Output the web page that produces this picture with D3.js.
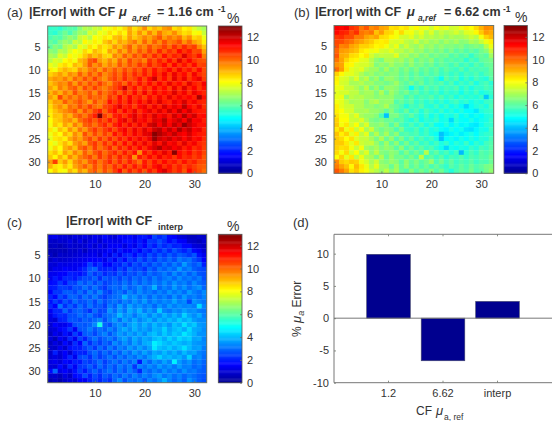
<!DOCTYPE html>
<html>
<head>
<meta charset="utf-8">
<script src="https://cdn.jsdelivr.net/npm/d3@7"></script>
<style>
html,body{margin:0;padding:0;background:#fff}
svg{display:block}
text{font-family:"Liberation Sans",Arial,sans-serif;fill:#333}
</style>
</head>
<body>
<svg id="fig" width="555" height="421"></svg>
<script>
// |Error| per pixel, percent, with the high-absorption calibration factor
const errorA = [
[5.5,5.6,5.4,5.8,6.0,5.9,6.6,7.2,7.0,7.5,7.3,8.1,7.9,8.4,8.0,8.6,9.2,8.5,8.9,9.6,8.6,9.1,8.8,9.4,9.6,8.5,8.8,8.2,8.4,7.7,7.3,7.0],
[5.6,5.4,5.9,6.3,5.8,6.4,6.9,6.7,7.6,7.3,8.0,7.8,8.5,8.1,8.6,8.2,9.3,8.7,9.5,8.8,9.7,9.0,9.9,9.2,9.0,9.6,8.9,8.5,8.7,8.0,8.2,7.4],
[5.8,6.1,5.9,6.4,6.8,6.5,7.4,7.7,7.2,8.1,7.9,8.4,8.2,8.9,9.1,8.5,9.4,8.8,9.2,9.7,9.3,9.8,10.3,9.4,9.9,9.5,9.9,9.0,9.5,8.6,8.8,7.9],
[6.2,5.9,6.5,6.9,6.6,7.5,7.2,8.2,7.8,8.3,8.0,8.8,9.2,8.6,9.3,9.0,9.5,9.9,9.2,10.1,9.4,10.2,9.6,10.4,9.8,10.0,10.4,9.5,10.1,9.3,9.0,8.3],
[6.1,6.6,6.3,7.1,7.4,7.0,7.9,7.6,8.5,8.1,8.8,8.4,8.7,9.5,9.0,9.6,10.2,9.3,10.0,9.6,10.4,9.8,10.1,10.6,10.0,10.8,10.2,10.9,10.3,10.6,9.6,8.9],
[6.7,6.5,7.2,7.0,7.6,8.1,7.8,8.6,8.2,9.0,8.7,8.3,9.3,8.9,9.8,9.2,10.1,9.5,10.3,9.8,10.6,10.0,10.9,10.2,10.8,10.4,11.3,10.7,11.1,10.4,10.5,9.3],
[7.1,6.9,7.7,7.4,8.2,7.9,8.3,8.8,9.4,8.9,9.3,8.7,8.6,9.7,9.3,10.2,9.6,10.4,9.9,10.7,10.1,10.9,10.3,11.2,10.5,11.0,10.7,11.8,10.9,10.6,11.2,9.8],
[7.2,7.7,7.5,8.1,8.4,8.0,9.0,9.3,10.2,10.5,9.4,9.0,9.6,9.1,10.1,9.5,10.5,9.9,10.2,9.7,10.8,10.3,11.0,10.5,11.3,10.6,11.7,10.8,11.4,10.7,10.4,10.3],
[7.9,7.6,8.3,8.6,8.2,9.0,8.7,9.4,10.3,9.5,10.0,9.2,9.8,9.4,10.3,9.7,10.4,10.0,10.7,10.2,11.0,10.4,10.8,11.3,10.5,11.4,10.7,11.2,10.6,11.3,10.5,10.6],
[8.3,8.0,8.7,9.1,8.8,8.6,9.5,9.2,9.8,10.1,9.4,10.2,9.7,10.3,9.8,10.5,10.0,10.6,10.2,11.0,10.4,11.2,10.6,10.9,11.4,10.7,11.5,10.8,11.2,10.6,11.3,10.4],
[8.7,9.0,9.4,8.9,9.6,9.3,10.2,9.5,10.3,9.7,10.4,9.6,10.0,10.5,10.0,10.8,10.2,10.9,10.4,11.1,10.5,11.3,10.8,11.5,10.7,11.6,10.9,11.3,10.6,11.5,10.8,10.5],
[9.2,9.5,9.3,9.8,9.2,10.1,9.6,10.4,9.8,10.6,9.9,9.5,10.2,10.6,10.1,10.9,10.3,10.6,11.2,10.5,11.3,12.0,10.7,11.3,10.6,11.7,10.9,11.6,10.7,11.2,11.6,10.6],
[8.9,9.3,9.7,9.5,10.2,9.4,10.3,9.7,10.4,9.9,10.6,10.0,9.6,10.4,10.7,10.1,11.0,10.4,11.2,10.6,11.3,10.7,11.4,10.8,11.6,10.9,11.3,10.7,11.7,11.0,10.8,11.5],
[9.3,8.8,9.8,9.3,10.0,10.3,9.5,10.5,9.9,10.6,10.0,9.7,10.2,10.5,10.9,12.0,10.6,11.2,10.4,11.1,10.6,11.4,10.8,11.3,10.6,11.6,10.8,11.8,10.9,11.4,10.7,11.2],
[9.0,9.6,9.1,9.9,9.4,10.4,9.7,9.9,10.3,9.6,10.5,9.9,10.3,10.8,10.2,11.0,10.5,11.3,10.6,11.5,10.7,11.4,10.9,11.3,11.0,11.8,11.0,11.5,10.8,11.6,11.2,10.9],
[9.4,8.9,10.5,9.5,10.1,9.6,10.2,9.7,10.4,10.0,10.2,9.8,10.7,10.3,11.3,10.5,11.4,10.7,11.1,10.5,11.3,10.8,11.5,10.9,11.7,11.0,11.5,11.1,11.4,11.0,12.5,11.2],
[8.8,9.4,9.3,10.2,9.6,10.0,10.4,9.9,9.4,10.4,9.8,10.1,11.2,10.6,11.2,10.7,11.5,10.8,11.4,10.9,11.7,11.0,11.8,11.1,10.9,11.6,11.2,11.9,11.1,11.5,11.0,10.9],
[8.6,9.2,9.6,9.1,10.0,9.7,10.4,9.9,10.6,10.0,9.8,10.5,10.7,11.1,11.7,10.9,11.2,10.6,11.3,11.6,10.9,11.6,11.0,11.9,11.2,11.7,11.3,12.3,11.4,11.0,11.6,10.8],
[8.4,8.9,9.3,9.6,9.9,10.3,9.5,10.4,9.9,10.6,11.0,10.1,10.9,11.3,10.6,11.4,10.9,11.6,10.8,11.3,11.7,11.1,11.8,11.2,12.0,11.3,12.2,11.4,12.0,11.2,11.1,11.0],
[8.3,8.9,8.8,9.5,9.1,9.9,10.3,9.8,10.5,11.0,13.0,10.6,10.1,11.0,11.2,10.7,11.3,11.8,11.0,11.6,11.1,11.9,11.3,11.7,11.1,12.0,11.4,12.4,11.5,12.0,11.2,11.3],
[8.1,8.7,8.9,9.4,9.6,9.0,10.0,10.4,10.7,10.2,10.8,10.4,11.1,10.5,11.3,11.7,10.9,11.8,11.2,11.5,11.0,11.8,11.6,12.3,11.3,11.7,12.1,11.4,12.3,11.4,11.5,11.0],
[8.0,8.8,8.4,9.3,8.8,9.8,9.2,10.2,10.4,9.9,10.5,10.9,10.2,11.0,11.4,10.8,11.5,10.9,11.6,11.0,11.9,12.2,11.4,12.1,11.4,12.2,11.6,12.7,12.0,11.6,11.2,11.2],
[8.4,7.9,8.9,8.5,9.5,8.9,9.9,9.4,10.2,10.7,10.1,10.6,11.0,10.4,11.1,11.5,10.8,11.6,11.0,11.8,11.2,12.0,12.3,11.5,12.2,11.5,12.5,11.7,12.2,11.4,11.6,10.9],
[7.9,8.5,8.1,9.1,8.6,9.6,9.1,10.4,9.7,10.5,9.9,10.6,10.1,11.2,10.6,11.3,10.8,11.5,11.0,11.7,11.8,12.9,12.4,12.0,11.6,12.2,11.6,11.4,11.9,11.3,11.1,11.0],
[7.8,8.4,8.6,8.3,9.2,9.7,9.3,10.0,10.5,9.8,10.7,10.1,10.9,10.3,11.1,10.6,11.4,10.9,11.5,11.0,11.6,12.7,12.0,11.7,12.1,11.5,11.9,11.3,11.8,11.2,11.4,10.8],
[8.2,7.8,8.5,9.0,8.5,9.4,9.8,9.3,10.3,10.7,10.0,10.8,10.2,11.1,10.4,11.3,10.6,11.5,10.9,11.6,11.0,11.8,11.2,12.0,11.3,11.6,11.0,11.8,11.1,11.5,10.9,10.7],
[7.9,8.6,8.1,9.1,9.5,8.9,10.0,10.4,9.7,10.6,9.9,10.3,10.9,10.1,11.0,10.5,11.3,10.7,11.4,10.8,11.5,11.9,12.4,11.6,11.9,11.4,11.7,11.0,11.4,10.8,11.1,10.6],
[8.5,8.9,8.3,9.3,8.8,9.7,9.2,10.2,9.6,10.3,10.7,10.0,10.5,10.9,10.3,11.1,10.5,11.2,9.6,11.2,10.7,11.4,11.0,11.7,11.1,12.9,11.3,10.9,11.3,10.7,11.0,10.5],
[8.8,8.2,9.1,8.5,9.6,9.0,9.8,10.1,10.5,9.8,10.7,10.1,10.8,10.2,11.0,10.4,11.0,9.5,11.1,10.6,11.3,10.8,11.5,10.9,11.2,10.7,11.3,10.8,11.0,10.6,10.9,10.3],
[9.4,10.6,8.8,9.4,8.6,9.5,9.9,9.4,10.2,10.6,9.9,10.4,10.9,10.2,10.9,10.3,11.0,10.5,10.0,11.1,10.5,11.2,10.7,11.3,10.8,11.1,10.6,11.2,10.7,11.0,10.5,10.4],
[9.1,8.5,8.3,8.9,8.4,9.3,9.7,10.2,9.6,10.4,9.8,10.5,10.1,10.8,10.3,11.1,10.4,11.1,10.5,11.2,10.6,11.2,11.5,10.8,11.2,10.6,11.0,10.5,10.9,10.6,10.3,10.2],
[8.1,8.7,8.2,8.0,9.0,8.5,9.5,9.0,9.9,10.3,9.6,10.4,9.9,10.6,11.3,10.2,11.0,10.4,11.0,10.3,11.1,10.6,11.4,11.9,11.1,10.6,11.0,10.3,11.3,10.7,10.4,10.0]
];

// |Error| per pixel, percent, with the low-absorption calibration factor
const errorB = [
[11.4,11.3,11.5,10.8,10.6,9.9,10.3,9.6,9.8,9.3,9.2,8.5,8.6,8.3,8.5,7.9,8.2,7.8,7.9,7.5,8.0,7.7,7.9,7.5,7.6,7.9,8.3,8.1,8.6,9.1,9.6,9.5],
[11.3,11.0,10.9,10.4,10.8,9.9,9.7,9.9,8.9,9.4,8.7,8.6,8.0,8.6,7.9,8.0,7.5,7.9,7.2,7.7,7.0,7.4,7.1,7.3,7.6,7.2,7.7,7.8,8.2,8.8,9.4,9.2],
[10.7,10.8,10.4,10.4,9.8,9.8,9.3,9.1,9.3,8.6,8.5,8.2,8.0,7.6,7.5,7.8,7.2,7.6,7.1,7.3,7.0,7.2,6.8,7.1,6.9,7.0,7.2,7.5,7.2,8.0,8.7,9.0],
[10.5,10.4,10.1,9.9,9.5,9.3,9.0,8.8,8.4,8.3,8.4,7.7,7.6,7.7,7.3,7.1,7.5,6.9,7.2,6.8,7.0,6.6,7.0,6.7,7.0,6.6,6.7,7.1,6.9,7.4,7.9,8.3],
[10.4,9.7,9.8,9.3,9.1,8.7,8.7,8.5,8.2,8.3,8.0,7.5,7.9,7.0,7.5,7.0,6.8,7.2,6.7,6.9,6.5,6.8,6.5,6.6,6.4,6.6,6.2,6.4,6.6,6.4,7.2,7.9],
[10.1,9.4,9.3,9.1,8.9,8.4,8.2,7.9,8.0,7.6,7.5,7.8,7.3,7.3,6.9,7.2,6.7,6.9,6.4,6.7,6.3,6.6,6.1,6.5,6.0,6.3,5.9,6.2,5.9,6.3,6.6,7.4],
[10.3,9.2,9.1,8.6,8.5,8.1,8.4,7.6,7.2,7.4,7.3,7.3,7.8,6.9,7.1,6.6,6.9,6.4,6.7,6.2,6.5,6.2,6.4,5.9,6.2,5.8,6.1,5.5,6.0,6.2,6.0,6.9],
[9.9,9.3,8.7,8.3,8.2,7.8,7.7,7.2,6.7,6.4,7.1,7.1,6.8,7.0,6.5,6.9,6.2,6.6,6.3,6.7,6.0,6.3,5.9,6.1,5.8,6.0,5.4,5.9,5.6,6.1,6.2,6.4],
[9.5,9.3,8.3,8.2,7.7,7.6,7.6,7.3,6.5,6.8,6.6,7.0,6.6,6.7,6.3,6.8,6.3,6.5,6.1,6.4,5.9,6.2,6.0,5.7,6.1,5.6,5.9,5.5,6.0,5.7,6.1,6.2],
[10.0,9.4,8.4,7.8,7.6,7.8,7.2,6.9,6.9,6.4,7.0,6.4,6.7,6.2,6.6,6.1,6.5,6.0,6.3,5.9,6.2,5.7,6.1,5.8,5.6,6.0,5.5,5.9,5.7,5.9,5.8,6.2],
[8.7,8.2,7.8,7.8,7.5,7.1,6.7,6.9,6.5,6.7,6.4,6.6,6.6,6.1,6.4,5.9,6.3,5.8,6.2,5.8,6.1,5.6,5.9,5.5,5.8,5.4,5.8,5.6,5.9,5.5,5.9,6.1],
[8.3,7.7,7.6,7.2,7.7,6.9,7.3,6.5,6.9,6.2,6.8,6.8,6.5,6.1,6.4,5.9,6.3,6.1,5.7,6.0,5.6,5.0,6.0,5.6,5.9,5.2,5.7,5.3,5.8,5.5,5.3,6.0],
[8.2,7.6,7.5,7.0,7.0,7.2,6.8,6.9,6.5,6.6,6.3,6.5,6.9,6.3,6.0,6.4,5.9,6.3,5.7,6.0,5.7,6.0,5.5,5.9,5.3,5.7,5.4,5.8,5.2,5.6,5.8,5.4],
[7.9,7.9,7.4,7.4,7.1,6.7,7.3,6.4,6.9,6.2,6.8,6.8,6.6,6.2,6.0,5.0,5.9,5.5,6.1,5.7,6.0,5.5,5.8,5.6,5.9,5.3,5.7,5.2,5.6,5.5,5.8,5.6],
[7.8,7.6,7.6,7.3,7.3,6.8,7.0,7.0,6.5,7.1,6.3,6.9,6.5,6.1,6.4,5.8,6.1,5.6,5.9,5.5,5.8,5.3,5.7,5.4,5.6,5.1,5.6,5.3,5.7,5.2,5.4,5.6],
[7.8,7.9,6.8,7.3,7.1,7.2,6.9,6.9,6.6,6.8,6.7,6.8,6.3,6.3,5.7,6.1,5.6,5.9,5.7,6.0,5.5,5.9,5.4,5.7,5.2,5.6,5.3,5.5,5.3,5.6,4.2,5.4],
[8.0,7.8,7.4,7.0,7.1,7.1,6.6,7.0,7.2,6.7,6.8,6.8,5.9,6.2,5.8,6.1,5.5,5.8,5.4,5.7,5.3,5.6,5.2,5.5,5.7,5.3,5.5,5.1,5.4,5.2,5.6,5.7],
[8.3,7.8,7.5,7.5,7.1,7.1,6.7,6.8,6.5,6.7,7.1,6.4,6.2,5.9,5.3,5.8,5.6,6.0,5.4,5.3,5.7,5.2,5.6,5.1,5.4,5.0,4.4,5.0,5.3,5.5,5.2,5.8],
[8.3,8.1,7.6,7.6,7.0,7.0,7.1,6.8,6.8,6.6,6.1,6.6,6.0,5.7,6.2,5.5,5.9,5.3,5.8,5.5,5.2,5.6,5.1,5.4,5.0,5.3,4.9,4.9,4.6,5.3,5.5,5.6],
[8.5,8.0,8.0,7.4,7.8,7.0,6.8,6.8,6.6,5.8,4.1,6.4,6.5,6.0,5.7,6.1,5.6,5.2,5.7,5.1,5.5,5.0,5.4,5.1,5.5,4.9,5.2,4.8,5.1,4.9,5.3,5.4],
[8.7,8.1,8.1,7.5,7.4,7.7,7.0,6.5,6.3,6.5,6.2,6.3,5.9,6.1,5.6,5.3,5.8,5.1,5.5,5.3,5.6,5.1,5.2,4.4,5.3,5.0,4.9,5.2,4.8,5.1,5.2,5.6],
[8.8,8.0,8.4,7.6,8.1,7.1,7.7,6.7,6.6,6.8,6.5,5.9,6.6,5.8,5.5,5.9,5.4,5.8,5.2,5.6,5.0,4.9,5.3,4.8,5.2,4.8,5.0,4.7,4.6,5.0,5.4,5.5],
[8.4,8.9,7.9,8.3,7.4,8.0,7.0,7.5,6.6,6.3,6.6,6.4,5.8,6.4,5.6,5.5,5.9,5.3,5.7,5.2,5.4,5.0,4.8,5.2,4.9,5.1,4.6,4.5,4.8,5.2,5.1,5.7],
[8.9,8.3,8.7,7.8,8.3,7.3,7.8,6.5,7.2,6.4,7.0,6.2,6.7,5.8,6.0,5.7,5.9,5.4,5.7,5.2,5.0,4.1,4.6,4.8,5.1,4.7,5.0,5.2,4.9,5.3,5.5,5.6],
[8.8,8.6,8.1,8.5,7.7,7.4,7.4,7.0,6.4,7.1,6.2,6.8,5.9,6.5,5.7,6.2,5.5,5.9,5.4,5.7,5.2,4.1,4.9,5.1,4.8,5.2,4.9,5.3,5.0,5.4,5.3,5.8],
[8.8,8.8,8.4,7.8,8.4,7.5,7.3,7.4,6.8,6.2,6.9,6.1,6.7,5.8,6.4,5.7,6.1,5.5,5.8,5.3,5.7,5.2,5.5,5.0,5.4,5.1,5.6,5.0,5.5,5.2,5.7,5.9],
[8.7,8.5,8.6,8.0,7.4,8.0,6.9,6.7,7.0,6.5,6.8,6.6,6.0,6.7,5.8,6.3,5.7,6.1,5.6,5.9,5.4,5.1,4.4,5.2,5.0,5.3,5.1,5.6,5.3,5.8,5.6,6.0],
[8.6,8.0,8.6,7.6,8.1,7.2,7.7,6.7,7.3,6.6,6.4,6.7,6.5,5.9,6.5,5.9,6.3,5.8,7.2,5.7,6.1,5.5,5.8,5.3,5.7,4.0,5.4,5.8,5.5,6.0,5.8,6.1],
[8.1,8.7,7.8,8.4,7.3,7.9,7.1,7.0,6.4,7.1,6.2,6.8,6.3,6.4,6.0,6.4,5.9,7.3,5.8,6.1,5.6,6.0,5.4,5.8,5.6,5.9,5.5,5.9,5.7,6.0,5.9,6.3],
[9.6,8.8,8.6,8.8,8.7,7.9,7.6,7.0,7.5,6.7,6.5,6.8,6.6,6.0,6.7,6.1,6.5,6.0,6.3,6.8,5.8,6.3,5.7,6.1,5.6,5.9,5.7,6.0,5.6,5.9,5.8,6.2],
[9.8,9.3,8.9,8.2,9.0,8.4,7.9,7.2,7.8,6.9,6.8,6.2,6.9,6.1,6.7,6.0,6.4,5.9,6.3,5.8,6.2,5.8,5.5,6.0,5.7,6.1,5.8,6.2,5.9,6.1,6.4,6.5],
[10.3,9.8,9.3,8.5,8.8,8.3,8.0,7.5,7.2,6.8,7.3,6.6,7.0,6.2,5.9,6.6,6.0,6.4,6.0,6.5,5.9,6.3,5.7,5.3,5.8,6.1,5.9,6.3,5.8,6.0,6.3,6.7]
];

// |Error| per pixel, percent, with the interpolated calibration factor
const errorC = [
[1.2,1.4,1.0,1.1,0.8,1.2,0.9,1.3,0.9,1.4,1.1,1.7,1.2,1.0,1.6,1.5,1.7,1.3,1.8,1.9,1.5,2.5,2.1,2.4,1.7,1.6,1.1,1.0,0.7,0.7,0.9,0.8],
[0.9,0.8,1.0,0.9,1.2,0.8,1.3,0.8,1.2,1.3,0.9,1.4,1.4,1.3,1.3,1.7,1.8,1.5,1.9,1.5,2.3,2.2,2.6,2.2,1.7,2.1,1.6,1.5,0.9,0.8,0.6,1.0],
[0.7,0.8,0.6,0.8,1.0,0.9,0.9,1.0,1.3,0.9,1.4,1.0,1.5,1.5,1.6,1.1,1.7,1.3,2.0,1.6,2.3,1.9,2.5,2.1,2.4,2.0,2.1,1.7,1.7,1.1,1.0,0.8],
[0.6,0.6,0.7,0.6,0.9,0.8,1.1,0.7,1.2,1.2,1.2,1.3,1.7,1.2,1.9,1.5,1.6,2.0,1.6,2.2,1.9,2.5,2.1,2.6,2.1,2.7,2.3,2.0,2.4,1.7,1.5,1.0],
[0.8,0.5,0.9,0.8,0.9,1.0,1.1,1.2,1.3,1.4,1.0,1.7,1.2,2.0,1.4,2.1,2.2,1.7,2.3,2.0,2.6,2.2,2.7,2.3,2.8,2.4,2.8,2.6,2.3,2.7,1.8,1.4],
[0.8,1.1,0.9,1.0,1.1,1.2,1.3,1.4,1.6,1.6,1.7,1.3,2.0,1.5,2.2,1.7,2.4,2.1,2.7,2.2,2.7,2.3,2.9,2.6,3.0,2.6,3.2,2.9,3.1,2.6,2.3,1.6],
[1.1,1.0,1.3,1.2,1.3,1.4,1.4,1.7,2.4,1.8,2.2,1.6,1.6,2.1,2.0,2.5,2.0,2.6,2.3,2.8,2.4,2.9,2.6,3.1,2.7,3.2,2.8,3.6,3.0,2.7,3.0,2.0],
[1.0,1.4,1.3,1.6,1.5,1.4,1.8,2.1,2.7,2.9,2.1,2.0,2.2,1.9,2.5,2.1,2.8,2.4,2.6,2.2,2.9,2.5,3.1,2.8,3.2,2.9,3.6,3.0,3.3,2.8,2.6,2.5],
[1.4,1.4,1.6,1.6,2.0,1.9,1.8,2.1,2.8,2.3,2.6,2.1,2.4,2.2,2.7,2.3,2.7,2.5,2.9,2.5,3.0,2.7,2.9,3.2,2.8,3.4,2.9,3.3,2.8,3.2,2.7,2.6],
[1.4,1.9,1.6,2.1,2.1,1.9,2.3,2.6,2.5,2.9,2.2,2.8,2.5,2.8,2.4,2.9,2.5,3.0,2.7,3.1,2.7,3.2,2.8,3.1,3.3,2.9,3.4,3.0,3.2,2.9,3.2,2.6],
[1.7,1.8,2.3,1.8,2.5,2.4,3.0,2.6,3.0,2.5,2.9,2.4,2.6,2.9,2.7,3.1,2.7,3.2,2.8,3.2,2.9,3.3,3.0,3.4,3.0,3.5,3.1,3.3,2.9,3.4,3.0,2.8],
[1.9,2.0,2.4,2.4,2.2,2.7,2.6,3.1,2.6,3.1,2.6,2.3,2.8,3.0,2.8,3.3,2.8,3.0,3.4,2.9,3.2,3.9,2.9,3.3,3.0,3.6,3.1,3.5,3.0,3.3,3.5,2.9],
[1.6,2.3,2.3,2.8,2.8,2.5,3.0,2.5,3.2,2.7,3.3,2.6,2.4,2.9,3.1,2.7,3.3,2.9,3.4,3.0,3.2,2.9,3.3,3.0,3.5,3.1,3.4,3.0,3.6,3.2,3.0,3.4],
[2.1,1.7,2.6,2.2,2.9,2.9,2.5,3.1,2.7,3.2,2.7,2.4,2.8,3.0,3.1,3.9,3.2,3.5,3.0,3.4,2.9,3.4,3.0,3.3,2.9,3.5,3.0,3.6,3.1,3.3,3.0,3.3],
[1.8,2.4,2.0,2.7,2.3,3.0,2.6,2.7,3.0,2.5,3.1,2.6,2.9,3.1,2.8,3.3,3.0,3.5,3.1,3.6,3.0,3.4,3.1,3.4,3.2,3.7,3.2,3.4,2.5,3.5,3.3,3.1],
[2.1,1.6,3.1,2.2,2.8,2.3,3.0,2.5,3.1,2.6,2.8,2.4,3.2,2.8,3.6,3.0,3.7,3.2,3.5,3.1,3.4,2.9,3.5,3.1,3.6,3.2,3.5,3.3,3.4,3.2,4.4,3.3],
[1.5,2.1,2.1,2.9,2.3,2.8,2.9,2.6,2.2,3.0,2.5,2.6,3.5,3.0,3.6,3.1,3.8,3.4,3.9,3.2,3.6,3.2,4.2,3.3,3.1,3.5,3.3,3.7,3.4,3.5,3.2,3.1],
[1.3,1.9,2.2,2.1,2.6,2.6,3.0,2.7,3.1,2.6,2.4,2.9,3.1,3.3,4.0,3.4,3.6,3.1,3.6,3.8,3.3,3.8,3.4,3.9,3.5,3.9,3.5,4.3,3.7,3.4,3.8,3.2],
[1.2,1.0,2.0,2.1,2.7,2.7,2.5,2.9,2.7,3.0,3.3,2.6,3.2,3.6,3.0,3.7,3.3,3.8,3.3,3.6,3.9,3.4,3.9,3.6,4.0,3.7,4.2,3.8,4.1,3.6,3.4,3.4],
[1.0,1.6,1.3,1.4,1.8,2.6,2.8,2.7,2.9,3.4,5.2,2.9,2.6,3.2,3.5,3.1,3.6,3.9,3.5,3.9,3.5,4.0,3.6,3.9,3.5,4.1,3.8,4.5,3.9,4.2,3.6,3.5],
[1.0,1.1,1.6,1.8,2.3,1.5,2.7,2.8,3.2,2.7,3.1,2.8,3.3,2.9,3.5,3.8,3.4,3.9,3.5,3.7,3.4,3.9,3.8,4.3,3.7,4.0,4.2,3.8,4.4,3.8,3.7,3.4],
[0.7,1.4,1.0,1.8,1.3,2.4,1.8,2.8,2.9,2.5,3.0,3.3,2.7,3.2,3.6,3.3,3.7,3.4,3.8,3.4,3.9,4.1,3.7,4.2,3.8,4.2,4.0,4.6,4.2,3.9,3.5,3.5],
[1.1,0.6,1.5,1.1,2.1,1.4,2.5,2.0,2.7,3.1,2.6,2.9,3.2,2.8,3.4,3.7,3.2,3.8,3.4,3.8,3.6,4.0,4.2,3.8,4.3,3.9,4.4,4.1,4.3,3.7,3.8,3.3],
[0.7,1.2,0.8,1.7,1.1,2.2,1.6,2.9,2.2,2.8,2.4,2.9,2.6,3.4,3.0,3.5,3.1,3.7,3.3,3.8,3.9,4.7,4.4,4.1,3.9,4.2,4.0,3.8,4.0,3.6,3.5,3.4],
[0.9,0.8,1.4,0.9,1.8,2.0,2.0,2.4,2.8,2.3,3.0,2.5,3.2,2.7,3.3,3.0,3.6,3.2,3.7,3.3,3.7,4.6,4.1,3.9,4.2,3.8,4.1,4.5,4.0,3.6,3.7,3.2],
[0.9,2.0,1.1,1.6,1.0,1.9,2.1,2.0,2.6,3.0,2.5,3.0,2.6,3.2,2.8,3.4,3.0,3.6,3.2,3.7,3.3,3.8,3.6,4.0,3.6,3.9,3.5,4.0,3.6,3.7,3.3,3.1],
[1.0,1.2,1.0,1.5,2.1,1.4,2.5,2.7,2.2,2.9,2.4,2.7,3.1,2.6,3.2,2.8,3.3,3.0,3.5,3.1,3.6,3.9,4.3,3.8,4.0,3.7,3.9,3.5,4.3,3.2,3.4,3.0],
[1.2,1.4,1.1,1.7,1.5,2.0,1.9,2.5,2.3,2.6,3.0,2.4,2.8,3.1,2.7,3.2,2.8,3.3,1.9,3.4,2.9,3.5,3.2,3.7,3.3,4.7,3.6,3.2,3.5,3.0,3.2,2.9],
[1.1,1.0,1.7,1.1,2.1,1.5,2.3,2.4,2.8,2.3,3.0,2.5,3.0,2.6,3.2,2.8,3.2,2.3,3.3,3.0,3.4,3.1,3.6,3.2,3.5,3.1,3.6,3.2,3.3,2.9,3.1,2.8],
[1.7,2.9,1.3,1.6,1.2,1.8,2.4,1.9,2.5,2.9,2.4,2.8,3.1,2.6,3.1,2.7,3.2,2.8,2.1,3.2,2.9,3.3,3.0,3.5,3.1,3.4,3.0,3.5,3.1,3.2,2.9,2.8],
[0.9,0.9,0.7,1.2,0.8,1.7,1.9,2.6,2.0,2.6,2.2,2.8,2.5,3.0,2.7,3.2,2.8,3.3,2.9,3.3,3.0,3.4,3.6,3.1,3.4,3.0,3.3,2.9,3.2,3.0,2.8,2.7],
[0.5,0.8,0.5,0.9,1.1,1.0,1.6,1.5,2.0,2.4,2.1,2.5,2.2,2.9,3.4,2.6,3.1,2.9,3.2,2.7,3.3,3.0,3.4,3.9,3.3,2.9,3.2,2.8,3.5,3.1,2.8,2.6]
];

// Mean signed error for each calibration factor
const barCategories = ["1.2", "6.62", "interp"];
const barValues = [9.9, -6.6, 2.6];

const heatXTicks = [10, 20, 30];
const heatYTicks = [5, 10, 15, 20, 25, 30];
const colorbarTicks = [0, 2, 4, 6, 8, 10, 12];
const barYTicks = [-10, -5, 0, 5, 10];

const INK = "#333";
const FRAME = "#6f7668";

const svg = d3.select("#fig");

// MATLAB jet colour ramp over the 0-13 % range
const jet = d3.scaleLinear()
  .domain([0, 1/8, 3/8, 5/8, 7/8, 1].map(t => t * 13))
  .range(["#00008f", "#0000ff", "#00ffff", "#ffff00", "#ff0000", "#800000"])
  .clamp(true);

function styleAxis(g) {
  g.select(".domain").remove();
  g.selectAll(".tick line").attr("stroke", FRAME).attr("stroke-width", 0.8);
  g.selectAll(".tick text").attr("fill", INK).style("font-size", "11px")
    .style("font-family", '"Liberation Sans", Arial, sans-serif');
}

function heatmap(matrix, box) {
  const g = svg.append("g");
  const x = d3.scaleLinear().domain([0.5, 32.5]).range([box.x0, box.x1]);
  const y = d3.scaleLinear().domain([0.5, 32.5]).range([box.y0, box.y1]);
  matrix.forEach((row, r) => {
    g.append("g").selectAll("rect").data(row).join("rect")
      .attr("x", (d, c) => x(c + 0.5))
      .attr("y", y(r + 0.5))
      .attr("width", (d, c) => x(c + 1.5) - x(c + 0.5) + 0.3)
      .attr("height", y(r + 1.5) - y(r + 0.5) + 0.3)
      .attr("fill", d => jet(d));
  });
  g.append("g").attr("transform", `translate(0,${box.y1})`)
    .call(d3.axisBottom(x).tickValues(heatXTicks).tickSize(-2).tickPadding(7))
    .call(styleAxis);
  g.append("g").attr("transform", `translate(${box.x0},0)`)
    .call(d3.axisLeft(y).tickValues(heatYTicks).tickSize(-2).tickPadding(7))
    .call(styleAxis);
  g.append("rect").attr("x", box.x0).attr("y", box.y0)
    .attr("width", box.x1 - box.x0).attr("height", box.y1 - box.y0)
    .attr("fill", "none").attr("stroke", FRAME).attr("stroke-width", 1);

  // Colour bar on the right of the map
  const cb = svg.append("g");
  const cy = d3.scaleLinear().domain([0, 13]).range([box.y1, box.y0]);
  const steps = d3.range(0, 13, 0.1);
  cb.selectAll("rect").data(steps).join("rect")
    .attr("x", box.cb0)
    .attr("y", d => cy(d + 0.1))
    .attr("width", box.cb1 - box.cb0)
    .attr("height", d => cy(d) - cy(d + 0.1) + 0.4)
    .attr("fill", d => jet(d + 0.05));
  cb.append("g").attr("transform", `translate(${box.cb1},0)`)
    .call(d3.axisRight(cy).tickValues(colorbarTicks).tickSize(-2).tickPadding(5))
    .call(styleAxis);
  cb.append("rect").attr("x", box.cb0).attr("y", box.y0)
    .attr("width", box.cb1 - box.cb0).attr("height", box.y1 - box.y0)
    .attr("fill", "none").attr("stroke", "#555").attr("stroke-width", 0.8);
}

function label(x, y, str, size, opts = {}) {
  return svg.append("text").attr("x", x).attr("y", y).text(str)
    .style("font-size", size + "px")
    .style("font-weight", opts.bold ? "bold" : "normal")
    .style("font-style", opts.italic ? "italic" : "normal");
}

heatmap(errorA, { x0: 47.7, x1: 206.7, y0: 26, y1: 173.3, cb0: 218.3, cb1: 242 });
heatmap(errorB, { x0: 334, x1: 493.7, y0: 25.5, y1: 173.3, cb0: 504, cb1: 527.3 });
heatmap(errorC, { x0: 47.7, x1: 206.7, y0: 234.3, y1: 382.7, cb0: 218.3, cb1: 242 });

// Panel (a) heading
label(7, 17, "(a)", 13);
label(29, 16, "|Error| with CF", 12.5, { bold: true });
label(119, 16, "μ", 13, { bold: true, italic: true });
label(132, 21, "a,ref", 8.5, { bold: true, italic: true });
label(157, 16, "= 1.16 cm", 12.5, { bold: true });
label(218, 12, "-1", 8.5, { bold: true });
label(227, 23, "%", 14);

// Panel (b) heading
label(294, 17, "(b)", 13);
label(315, 16, "|Error| with CF", 12.5, { bold: true });
label(407, 16, "μ", 13, { bold: true, italic: true });
label(418, 21, "a,ref", 8.5, { bold: true, italic: true });
label(444, 16, "= 6.62 cm", 12.5, { bold: true });
label(503, 12, "-1", 8.5, { bold: true });
label(515, 22, "%", 14);

// Panel (c) heading
label(7, 227, "(c)", 13);
label(66, 225, "|Error| with CF", 12.5, { bold: true });
label(158, 230, "interp", 9, { bold: true });
label(227, 231, "%", 14);

// Panel (d): mean signed error per calibration factor
label(293, 227, "(d)", 13);
const barBox = { x0: 334, x1: 552, y0: 234.3, y1: 382.7 };
const barX = d3.scaleBand().domain(barCategories)
  .range([barBox.x0 + 27.25, barBox.x1 - 27.25]).paddingInner(0.2).paddingOuter(0.1);
const barY = d3.scaleLinear().domain([-10, 13]).range([barBox.y1, barBox.y0]);

svg.append("g").selectAll("rect").data(barValues).join("rect")
  .attr("x", (d, i) => barX(barCategories[i]))
  .attr("y", d => barY(Math.max(0, d)))
  .attr("width", barX.bandwidth())
  .attr("height", d => Math.abs(barY(d) - barY(0)))
  .attr("fill", "#00008f")
  .attr("stroke", "#40446a").attr("stroke-width", 0.6);

svg.append("line").attr("x1", barBox.x0).attr("x2", barBox.x1)
  .attr("y1", barY(0)).attr("y2", barY(0))
  .attr("stroke", "#777").attr("stroke-width", 1);

svg.append("g").attr("transform", `translate(0,${barBox.y1})`)
  .call(d3.axisBottom(barX).tickSize(-2).tickPadding(7))
  .call(styleAxis);
svg.append("g").attr("transform", `translate(0,${barBox.y0})`)
  .call(d3.axisTop(barX).tickSize(-2).tickFormat(""))
  .call(styleAxis);
svg.append("g").attr("transform", `translate(${barBox.x0},0)`)
  .call(d3.axisLeft(barY).tickValues(barYTicks).tickSize(-2).tickPadding(5).tickFormat(d3.format("d")))
  .call(styleAxis);
svg.selectAll(".tick text").filter(function () { return this.textContent.includes("\u2212"); })
  .text(function () { return this.textContent.replace("\u2212", "-"); });
svg.append("path")
  .attr("d", d3.line()([[barBox.x1, barBox.y0], [barBox.x0, barBox.y0], [barBox.x0, barBox.y1], [barBox.x1, barBox.y1]]))
  .attr("fill", "none").attr("stroke", "#777").attr("stroke-width", 1);

label(416, 415, "CF", 12);
label(436, 415, "μ", 13, { italic: true });
label(444, 420, "a, ref", 8.5);

const yTitle = svg.append("text")
  .attr("transform", "translate(301,337) rotate(-90)")
  .style("font-size", "12px");
yTitle.append("tspan").text("% ");
yTitle.append("tspan").text("μ").style("font-style", "italic").style("font-size", "13px");
yTitle.append("tspan").text("a").attr("dy", 3).style("font-style", "italic").style("font-size", "9px");
yTitle.append("tspan").text(" Error").attr("dy", -3);
</script>
</body>
</html>
